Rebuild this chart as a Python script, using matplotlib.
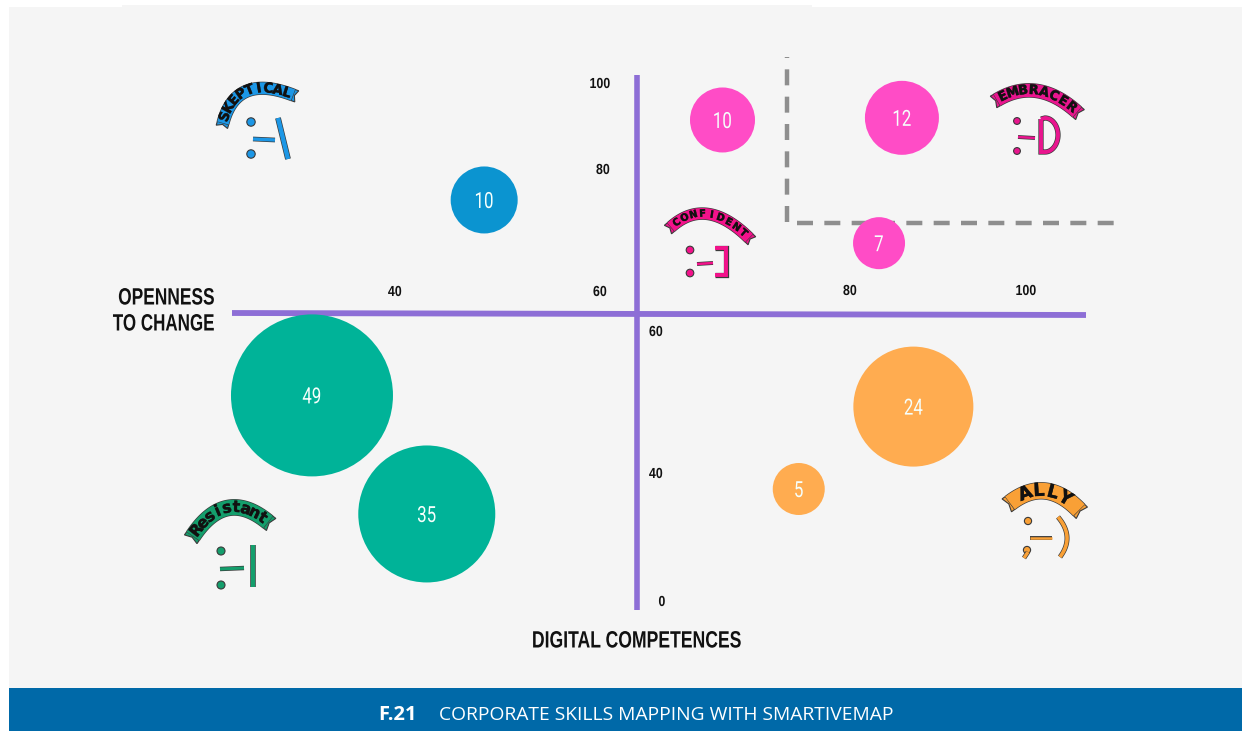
import numpy as np
import matplotlib
matplotlib.use('Agg')
import matplotlib.pyplot as plt
import matplotlib.patheffects as pe
from matplotlib.patches import Rectangle, Circle, Polygon
from matplotlib.transforms import Affine2D, blended_transform_factory

W, H = 1242, 731

# bubbles: digital competences, openness to change, count, drawn diameter (px)
digital = [31.9, 43.1, 48.7, 69.8, 85.9, 83.3, 87.2, 75.9]
openness = [49.7, 27.2, 75.7, 91.4, 91.9, 69.7, 48.3, 35.0]
counts = [49, 35, 10, 10, 12, 7, 24, 5]
diameters = [162, 137, 67, 65, 74, 52, 120, 52]
groups = ['resistant', 'resistant', 'skeptical', 'confident', 'embracer', 'confident', 'ally', 'ally']

x_tick_values = [40, 60, 80, 100]
y_tick_values = [0, 40, 60, 80, 100]

group_colors = {'resistant': '#00b398', 'skeptical': '#0b94d0', 'confident': '#ff4cc6',
                'embracer': '#ff4cc6', 'ally': '#ffac50'}

# the printed axes are not linear, so each tick gets its own position
x_stops = [1.46, 40, 60, 80, 100, 124.5]
x_px = [0, 395, 600, 850, 1026, 1242]
y_stops = [-40.6, 0, 40, 60, 80, 100, 119.3]
y_px = [731, 601, 473, 313, 169, 83, 0]


def x_fwd(v):
    return np.interp(v, x_stops, x_px)

def x_inv(p):
    return np.interp(p, x_px, x_stops)

def y_fwd(v):
    return H - np.interp(v, y_stops, y_px)

def y_inv(p):
    return np.interp(H - np.asarray(p), y_px[::-1], y_stops[::-1])


class Squeeze(pe.AbstractPathEffect):
    # no condensed font installed, so narrow the glyphs at draw time
    def __init__(self, sx, anchor=0.5):
        super().__init__()
        self.sx = sx
        self.anchor = anchor

    def draw_path(self, renderer, gc, tpath, affine, rgbFace=None):
        w = tpath.get_extents().x1
        tr = Affine2D().scale(self.sx, 1).translate((1 - self.sx) * w * self.anchor, 0) + affine
        renderer.draw_path(gc, tpath, tr, rgbFace)


fig = plt.figure(figsize=(W / 100, H / 100), dpi=100, facecolor='white')

bg = fig.add_axes([0, 0, 1, 1])
bg.set_xlim(0, W)
bg.set_ylim(H, 0)
bg.axis('off')

bg.add_patch(Rectangle((9, 7), W - 9, 682, fc='#f5f5f5', ec='none'))
bg.add_patch(Rectangle((122, 5), 690, 3, fc='#f5f5f5', ec='none'))
bg.add_patch(Rectangle((9, 688), W - 9, 43, fc='#0069a8', ec='none'))

purple = '#8d6ed6'
bg.plot([636.5, 636.5], [75, 610], color=purple, lw=4.0, solid_capstyle='butt')
bg.plot([232, 1086], [313, 315], color=purple, lw=4.2, solid_capstyle='butt')
dash = (0, (3.6, 2.55))
bg.plot([787, 787], [222, 57], color='#8e8e8e', lw=3.2, linestyle=dash, dash_capstyle='butt')
bg.plot([797, 1114], [222.5, 222.5], color='#8e8e8e', lw=3.2, linestyle=dash, dash_capstyle='butt')

ax = fig.add_axes([0, 0, 1, 1])
ax.patch.set_alpha(0)
ax.set_xscale('function', functions=(x_fwd, x_inv))
ax.set_yscale('function', functions=(y_fwd, y_inv))
ax.set_xlim(x_stops[0], x_stops[-1])
ax.set_ylim(y_stops[0], y_stops[-1])
ax.axis('off')

sizes = [(d * 0.72) ** 2 for d in diameters]
ax.scatter(digital, openness, s=sizes, c=[group_colors[g] for g in groups], linewidths=0, zorder=3)
for xv, yv, n in zip(digital, openness, counts):
    ax.text(xv, yv, str(n), color='#f6fffc', fontsize=16, ha='center', va='center_baseline',
            family='Roboto', zorder=4, path_effects=[Squeeze(0.76)])

# tick labels sit away from the axis lines
tr_x = blended_transform_factory(ax.transData, bg.transData)
tick_kw = dict(fontsize=10.5, fontweight='bold', family='Liberation Sans', ha='center', va='center',
               color='#111111', path_effects=[Squeeze(0.85)])
for v, yp in zip(x_tick_values, [292, 292, 291, 291]):
    fig.text(v, yp, str(v), transform=tr_x, **tick_kw)
bg.text(600, 84, '100', **tick_kw)
bg.text(603, 170, '80', **tick_kw)
for v, p in zip(y_tick_values[:3], [(662, 602), (656, 474), (656, 332)]):
    bg.text(p[0], p[1], str(v), **tick_kw)

title_kw = dict(fontsize=17, fontweight='bold', family='Liberation Sans', color='#111111', va='center')
bg.text(215, 298, 'OPENNESS', ha='right', path_effects=[Squeeze(0.735, 1)], **title_kw)
bg.text(215, 324, 'TO CHANGE', ha='right', path_effects=[Squeeze(0.72, 1)], **title_kw)
bg.text(637, 641, 'DIGITAL COMPETENCES', ha='center', path_effects=[Squeeze(0.745)], **title_kw)

bg.text(378, 715, 'F.21', color='white', fontsize=14.5, fontweight='bold', family='Open Sans', va='center')
bg.text(439, 715, 'CORPORATE SKILLS MAPPING WITH SMARTIVEMAP', color='white', fontsize=13.9,
        family='Open Sans', va='center')


def curve(p0, p1, p2, n=60):
    # quadratic through the three points
    p0, p1, p2 = np.array(p0, float), np.array(p1, float), np.array(p2, float)
    c = 2 * p1 - 0.5 * (p0 + p2)
    t = np.linspace(0, 1, n)[:, None]
    return (1 - t) ** 2 * p0 + 2 * t * (1 - t) * c + t ** 2 * p2


def stroke(xs, ys, color, lw=2.6):
    bg.plot(xs, ys, color=color, lw=lw, solid_capstyle='butt', solid_joinstyle='miter',
            path_effects=[pe.Stroke(linewidth=lw + 1.0, foreground='#3a3a3a'), pe.Normal()], zorder=5)


def dot(x, y, color, r=4.2):
    bg.add_patch(Circle((x, y), r, fc=color, ec='#3a3a3a', lw=0.8, zorder=5))


def banner(p0, p1, p2, text, color, lw=10, fs=7.5, pad=0.05, sx=0.9, tail=4):
    pts = curve(p0, p1, p2)
    half = lw / 0.72 / 2
    # swallow tails at both ribbon ends
    for a, b in ((pts[0], pts[3]), (pts[-1], pts[-4])):
        d = (a - b) / np.hypot(*(a - b))
        n = np.array([-d[1], d[0]])
        tip = a + d * tail
        poly = [a + n * half, tip + n * half, a + d * 1.5, tip - n * half, a - n * half]
        bg.add_patch(Polygon(poly, fc=color, ec='#3a3a3a', lw=0.8, zorder=4.9))
    bg.plot(pts[:, 0], pts[:, 1], color=color, lw=lw, solid_capstyle='butt',
            path_effects=[pe.Stroke(linewidth=lw + 1, foreground='#3a3a3a'), pe.Normal()], zorder=5)
    seg = np.r_[0, np.cumsum(np.hypot(*np.diff(pts, axis=0).T))]
    seg = seg / seg[-1]
    for i, ch in enumerate(text):
        f = pad + (1 - 2 * pad) * (i + 0.5) / len(text)
        x = np.interp(f, seg, pts[:, 0])
        y = np.interp(f, seg, pts[:, 1])
        k = min(int(f * (len(pts) - 1)), len(pts) - 2)
        ang = np.degrees(np.arctan2(-(pts[k + 1, 1] - pts[k, 1]), pts[k + 1, 0] - pts[k, 0]))
        bg.text(x, y, ch, rotation=ang, rotation_mode='anchor', ha='center', va='center', fontsize=fs,
                fontweight='bold', family='DejaVu Sans', color='#111111', zorder=6,
                path_effects=[Squeeze(sx), pe.Stroke(linewidth=0.3, foreground='#111111')])


# SKEPTICAL
c = '#1c97e6'
banner((223, 123), (247, 91), (293, 95), 'SKEPTICAL', c, lw=8.5, fs=10, pad=0.02, sx=0.8)
dot(251, 122, c); dot(251, 154, c)
stroke([253, 275], [139, 140], c, 2.4)
stroke([278, 288], [118, 159], c, 3.2)

# CONFIDENT
c = '#f3128b'
banner((671, 227), (708, 214), (749, 238), 'CONFIDENT', c, lw=8, fs=7.2, pad=0.03, sx=0.85)
dot(690, 250, c, 3.8); dot(690, 273, c, 3.8)
stroke([697, 713], [264, 263], c, 1.8)
stroke([715, 726, 726, 715], [248, 248, 275, 275], c, 2.8)

# EMBRACER
c = '#e9158e'
banner((997, 100), (1037, 91), (1077, 112), 'EMBRACER', c, lw=9.5, fs=9.5, pad=0.02, sx=0.85)
dot(1017, 121, c, 3.4); dot(1017, 151, c, 3.4)
stroke([1018, 1035], [137, 138], c, 1.8)
t = np.linspace(-np.pi / 2, np.pi / 2, 30)
stroke(np.r_[1041, 1045 + 13 * np.cos(t), 1041, 1041], np.r_[119, 135 + 17 * np.sin(t), 152, 119], c, 2.8)

# ALLY
c = '#f9a036'
banner((1010, 503), (1045, 491), (1079, 510), 'ALLY', c, lw=11.5, fs=13, pad=0.14, sx=0.9)
dot(1028, 521, c, 3.6); dot(1027, 550, c, 3.6)
stroke([1028, 1024], [552, 558], c, 2.4)
stroke([1030, 1052], [538, 538], c, 1.8)
p = curve((1058, 517), (1067, 537), (1060, 557))
stroke(p[:, 0], p[:, 1], c, 2.6)

# RESISTANT
c = '#149e6c'
banner((193, 536), (228, 508), (268, 522), 'Resistant', c, lw=11, fs=11.5, pad=0.02, sx=0.85)
dot(221, 551, c, 4); dot(221, 585, c, 4)
stroke([220, 244], [569, 568], c, 2.2)
stroke([253, 253], [545, 587], c, 3)

fig.savefig('out.png', dpi=100)
